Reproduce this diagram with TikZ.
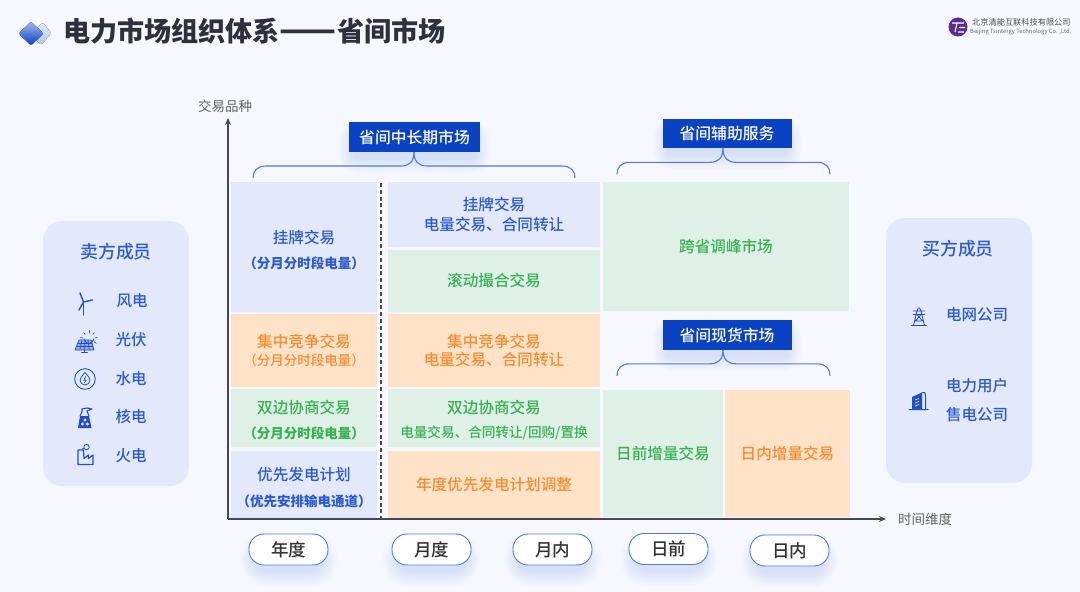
\documentclass[tikz,border=0pt]{standalone}
\usepackage{fontspec}
\setmainfont{Noto Sans CJK SC}
\newfontfamily\medf{Noto Sans CJK SC Medium}
\usepackage{graphicx}
\usepackage{tikz}
\usetikzlibrary{arrows.meta,calc}
\definecolor{bgc}{HTML}{F7F8FF}
\definecolor{bluec}{HTML}{E3E9FB}
\definecolor{bluet}{HTML}{2B5BD0}
\definecolor{greenc}{HTML}{DFF0E7}
\definecolor{greent}{HTML}{36B251}
\definecolor{orangec}{HTML}{FFE3C9}
\definecolor{oranget}{HTML}{F98C2F}
\definecolor{banc}{HTML}{0A42C4}
\definecolor{axc}{HTML}{44485A}
\definecolor{icc}{HTML}{1F50C6}
\definecolor{brcc}{HTML}{4F7BDC}
\definecolor{logoc}{HTML}{5B2C91}
\definecolor{titc}{HTML}{2E313D}
\newcommand{\fz}[1]{\fontsize{#1}{#1}\selectfont}
\newcommand{\subt}[1]{{\fz{13.5}\bfseries #1}}
% soft shadow under a box
\newcommand{\softbox}[5]{\foreach \s in {0,2,...,14}{\fill[banc,opacity=.016,rounded corners=#5+\s] (#1-\s,#2+7-\s) rectangle (#3+\s,#4+7+\s);}}
% brace hanging from a point under a banner
\newcommand{\hangbrace}[3]{\draw[brc] (#1) .. controls +(0,10) and +(8,0) .. ++(-13,14) -- ++(-#2,0) .. controls +(-9,0) and +(0,-7) .. ++(-13,12);
\draw[brc] (#1) .. controls +(0,10) and +(-8,0) .. ++(13,14) -- ++(#3,0) .. controls +(9,0) and +(0,-7) .. ++(13,12);}
\tikzset{
  >={Stealth[length=7pt,width=6pt]},
  cell/.style={inner sep=0pt,align=center,font=\medf\fz{15.6}},
  bc/.style={cell,fill=bluec,text=bluet},
  gc/.style={cell,fill=greenc,text=greent},
  oc/.style={cell,fill=orangec,text=oranget},
  ban/.style={fill=banc,text=white,minimum width=129,minimum height=29.5,inner sep=0pt,font=\medf\fz{15.8}},
  pill/.style={draw=brcc,line width=.9pt,fill=white,text=black!80,rounded corners=15,minimum width=79,minimum height=31,inner sep=0pt,font=\medf\fz{17.5}},
  panel/.style={fill=bluec,rounded corners=19,minimum width=146,minimum height=265,inner sep=0pt},
  ptxt/.style={text=bluet,inner sep=0pt,font=\medf\fz{15.5}},
  ptitle/.style={text=bluet,inner sep=0pt,font=\medf\fz{17.9}},
  axt/.style={text=black!62,inner sep=0pt,font=\fz{13.5}},
  ax/.style={draw=axc,line width=1.3pt,->},
  brc/.style={draw=brcc,line width=1.1pt},
  ic/.style={draw=icc,line width=.8pt,line cap=round,line join=round},
  windicon/.pic={
    \draw[ic,line width=1.8pt] (-.5,0) -- (-.5,13);
    \draw[ic,line width=1.4pt] (-.5,0) -- (-4,-9) (-.5,0) -- (8.5,-2) (-.5,0) -- (-5,8);},
  solaricon/.pic={
    \fill[icc,opacity=.4] (-6,0) -- (6,0) -- (9,10) -- (-10,10) -- cycle;
    \draw[ic,line width=.7pt] (-6,0) -- (6,0) -- (9,10) -- (-10,10) -- cycle;
    \foreach \t in {.25,.5,.75}{\draw[ic,line width=.6pt] ($(-6,0)!\t!(6,0)$) -- ($(-10,10)!\t!(9,10)$);}
    \draw[ic,line width=.6pt] (-7.3,3.3) -- (7,3.3) (-8.7,6.6) -- (8,6.6);
    \draw[ic,line width=.7pt] (-.5,10) -- (-.5,12.5) (-3.5,12.5) -- (2.5,12.5);
    \draw[ic,line width=.8pt] (-.5,-1) arc[start angle=180,end angle=0,radius=4.5] -- (9,0.5);
    \foreach \a in {-170,-130,...,60}{\draw[ic,line width=.7pt] (4,-1)++(\a:6) -- ++(\a:2.4);}},
  watericon/.pic={
    \draw[ic,line width=.9pt] (0,0) circle (10.3);
    \draw[ic] (0,-6.5) .. controls (3,-3) and (5,-1) .. (5,1) arc[start angle=0,end angle=180,radius=5] .. controls (-5,-1) and (-3,-3) .. (0,-6.5);
    \draw[ic,line width=.7pt] (.6,-2.5) -- (-1.2,1.2) -- (1.2,1.2) -- (-.6,4);},
  nuclearicon/.pic={
    \fill[icc] (-7,10) -- (-5,-2) -- (4,-2) -- (6.5,10) -- cycle;
    \draw[ic,line width=1.1pt] (-5,-2) -- (-3,-6) -- (-3,-9) -- (2,-10) -- (7,-9) -- (2,-7) -- (4,-2);
    \fill[bluec] (-2.5,6) circle (1.7) (2.3,6) circle (1.7) (0,2) circle (1.7);},
  fireicon/.pic={
    \draw[ic,line width=1.2pt] (-7,-5) -- (-7,9.5) -- (8,9.5) -- (8,0) -- (3.5,3.5) -- (3.5,0) -- (-1,3.5) -- (-1.5,-5) -- cycle;
    \draw[ic,line width=.8pt] (1.5,-8) circle (2.7) (-1,-6.5) -- (-3,-6);},
  towericon/.pic={
    \draw[ic,line width=.85pt] (-7.5,9.5) -- (7.5,9.5) (-5.5,9.5) -- (-1.5,-7) -- (1.5,-7) -- (5.5,9.5) (-6,-5) -- (6,-5) (-6,-1.5) -- (6,-1.5) (-2,-1.5) -- (3.5,5) (2,-1.5) -- (-3.5,5) (-3.5,5) -- (3.5,5) (0,-7) -- (0,-9);},
  buildicon/.pic={
    \fill[icc] (-7,9) -- (-7,-3) -- (3,-7.5) -- (3,9) -- cycle;
    \draw[ic,line width=1pt] (-10,9.5) -- (9,9.5) (3,-7.5) .. controls (6,-8) .. (6.5,-4) -- (6.5,9.5);
    \draw[bluec,line width=.7pt] (-4,0) -- (0,-1.5) (-4,3) -- (0,1.5) (-4,6) -- (0,4.5);},
}

\begin{document}
\begin{tikzpicture}[x=1pt,y=-1pt]
\fill[bgc] (0,0) rectangle (1080,592);
\useasboundingbox (0,0) rectangle (1080,592);
% title
\fill[top color=bluec,bottom color=brcc!45,rounded corners=2pt] (43,22.5) -- (51.5,33.5) -- (41,45) -- (30,33.5) -- cycle;
\fill[top color=brcc!55,bottom color=banc,rounded corners=2pt] (31,21.5) -- (43.5,33.5) -- (31,45.5) -- (18.5,33.5) -- cycle;
\node[inner sep=0pt,anchor=west,text=titc,font=\bfseries\fz{27.1}] (title) at (63,31){电力市场组织体系\resizebox{57pt}{!}{——}省间市场};
% logo
\node[circle,fill=logoc,minimum size=19,inner sep=0pt] (logo) at (958,27){};
\draw[white,line width=1.1pt] (952,23) -- (964,23) (957,23) -- (955,32) (959,27.5) -- (965,27.5) (958,32) -- (964,32);
\node[inner sep=0pt,anchor=west,text=black!70,font=\fz{8.2}] (lgcn) at (972,22){北京清能互联科技有限公司};
\node[inner sep=0pt,anchor=west,text=black!60,font=\fz{5.8}] (lgen) at (970,32){Beijing Tsintergy Technology Co. ,Ltd.};
% side panels
\node[panel] (sell) at (116,353.5){}; \node[panel] (buy) at (959,350.5){};
\node[ptitle] (sellt) at (116,252){卖方成员}; \node[ptitle] (buyt) at (958,249){买方成员};
\node[ptxt] (pwind) at (132,301){风电}; \node[ptxt] (ppv) at (131,340){光伏}; \node[ptxt] (phyd) at (131,379){水电};
\node[ptxt] (pnuc) at (131,417){核电}; \node[ptxt] (pcoal) at (131,456){火电};
\node[ptxt] (bgrid) at (977,315){电网公司}; \node[ptxt] (buser) at (977,386){电力用户}; \node[ptxt] (bsale) at (977,415){售电公司};
\pic at (84,302) {windicon}; \pic at (85,340) {solaricon}; \pic at (85,379) {watericon};
\pic at (85,418) {nuclearicon}; \pic at (85,455) {fireicon};
\pic at (919,316) {towericon}; \pic at (919,400) {buildicon};
% cells of the year column
\node[bc,minimum width=146,minimum height=130] (ygp) at (304,247){\rule{0pt}{19pt}挂牌交易\\[10pt]\subt{（分月分时段电量）}};
\node[oc,minimum width=146,minimum height=73] (yjz) at (304,350.5){集中竞争交易\\[2pt]{\fz{13.5}（分月分时段电量）}};
\node[gc,minimum width=146,minimum height=58] (ysb) at (304,418){\rule{0pt}{17pt}双边协商交易\\[9pt]\subt{（分月分时段电量）}};
\node[bc,minimum width=146,minimum height=67] (yyx) at (304,484.5){\rule{0pt}{19pt}优先发电计划\\[10pt]\subt{（优先安排输电通道）}};
% cells of the month column
\node[bc,minimum width=212,minimum height=65] (mgp) at (494,214.5){挂牌交易\\[4pt]电量交易、合同转让};
\node[gc,minimum width=212,minimum height=62] (mgd) at (494,281){滚动撮合交易};
\node[oc,minimum width=212,minimum height=73] (mjz) at (494,350.5){集中竞争交易\\[3pt]电量交易、合同转让};
\node[gc,minimum width=212,minimum height=58] (msb) at (494,418){\rule{0pt}{17pt}双边协商交易\\[8pt]{\fz{13.6}电量交易、合同转让/回购/置换}};
\node[oc,minimum width=212,minimum height=67] (myx) at (494,484.5){年度优先发电计划调整};
% cells on the right
\node[gc,minimum width=246,minimum height=129] (kstf) at (726,246.5){跨省调峰市场};
\node[gc,minimum width=120,minimum height=127] (rq) at (663,453.5){日前增量交易};
\node[oc,minimum width=125,minimum height=127] (rn) at (787.5,453.5){日内增量交易};
% axes
\coordinate (o) at (228,519); \coordinate (ytop) at (228,118); \coordinate (xend) at (886,519);
\draw[ax] (o) -- (ytop); \draw[ax] (o) -- (xend);
\draw[axc,line width=1.2pt,dash pattern=on 4pt off 2.8pt] (381,183) -- (381,518);
\node[axt] (ylab) at (225,106){交易品种}; \node[axt] (xlab) at (925,519){时间维度};
% banners
\softbox{353}{128}{476}{152}{4}
\softbox{667}{125}{787}{148}{4}
\softbox{667}{326}{787}{350}{4}
\node[ban,minimum width=131] (zcq) at (414.5,137){省间中长期市场};
\node[ban] (fz) at (727,133.5){省间辅助服务};
\node[ban] (xh) at (727,335){省间现货市场};
\coordinate (zcqb) at (414,152); \coordinate (fzb) at (723,148.3); \coordinate (xhb) at (723,349.8);
\hangbrace{zcqb}{135}{135}
\hangbrace{fzb}{80}{81}
\hangbrace{xhb}{80}{81}
% time pills
\softbox{254}{540}{323}{565}{12}
\softbox{397}{540}{466}{565}{12}
\softbox{518}{540}{587}{565}{12}
\softbox{634}{540}{703}{564}{12}
\softbox{755}{541}{824}{566}{12}
\node[pill] (pyear) at (288.5,549.5){年度}; \node[pill] (pmon) at (431.5,549.5){月度};
\node[pill] (pmin) at (552.5,549.5){月内}; \node[pill] (pdq) at (668.5,549){日前};
\node[pill] (pdn) at (789.5,550.5){日内};
\end{tikzpicture}
\end{document}
